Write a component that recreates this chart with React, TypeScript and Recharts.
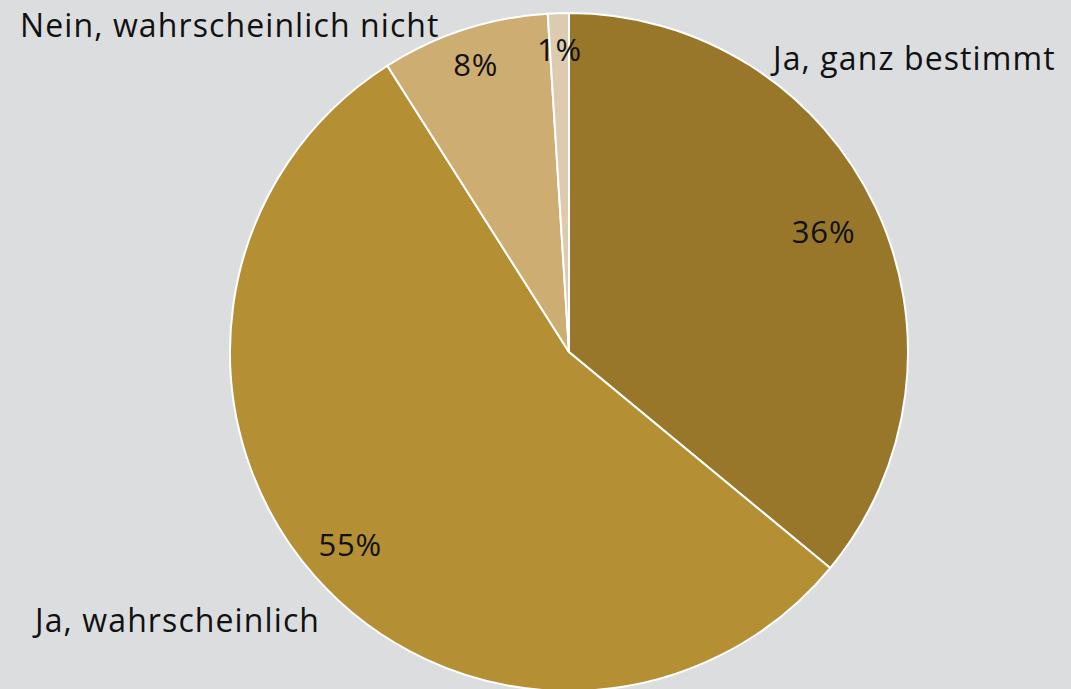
import { PieChart, Pie, Cell } from "recharts";

const categories = [
  "Ja, ganz bestimmt",
  "Ja, wahrscheinlich",
  "Nein, wahrscheinlich nicht",
  "Nein, ganz bestimmt nicht",
];
const shares = [36, 55, 8, 1];
const showName = [true, true, true, false];

const colors = ["#98772A", "#B48F34", "#CEAD73", "#DDCBB0"];

// where the percentage sits, as a fraction of the radius
const pctRadius = [0.83, 0.86, 0.89, 0.89];
// category name anchor, offset from the pie centre (text starts here)
const nameOffset: [number, number][] = [
  [204, -282],
  [-534, 280],
  [-549, -315],
  [0, 0],
];

const RADIAN = Math.PI / 180;
const FONT = "'Open Sans', sans-serif";

const data = categories.map((name, i) => ({ name, value: shares[i] }));

const renderLabel = (props: any) => {
  const { cx, cy, midAngle, outerRadius, index, value } = props;
  const r = outerRadius * pctRadius[index];
  const x = cx + r * Math.cos(-midAngle * RADIAN);
  const y = cy + r * Math.sin(-midAngle * RADIAN);
  const [dx, dy] = nameOffset[index];
  return (
    <g>
      <text
        x={x}
        y={y + 11}
        textAnchor="middle"
        fill="#111"
        fontSize={31}
        letterSpacing={0.8}
        fontFamily={FONT}
      >
        {`${value}%`}
      </text>
      {showName[index] && (
        <text
          x={cx + dx}
          y={cy + dy}
          textAnchor="start"
          fill="#111"
          fontSize={32}
          letterSpacing={1.1}
          fontFamily={FONT}
        >
          {categories[index]}
        </text>
      )}
    </g>
  );
};

export default function App() {
  return (
    <div style={{ width: 1071, height: 689, background: "#DCDDDF", overflow: "hidden" }}>
      <style>{`body{margin:0}`}</style>
      <PieChart width={1071} height={689} margin={{ top: 0, right: 0, bottom: 0, left: 0 }}>
        <Pie
          data={data}
          dataKey="value"
          nameKey="name"
          cx={569}
          cy={352}
          outerRadius={339}
          startAngle={90}
          endAngle={-270}
          stroke="#FFFFFF"
          strokeWidth={2}
          labelLine={false}
          label={renderLabel}
          isAnimationActive={false}
        >
          {data.map((_, i) => (
            <Cell key={`cell-${i}`} fill={colors[i]} />
          ))}
        </Pie>
      </PieChart>
    </div>
  );
}
